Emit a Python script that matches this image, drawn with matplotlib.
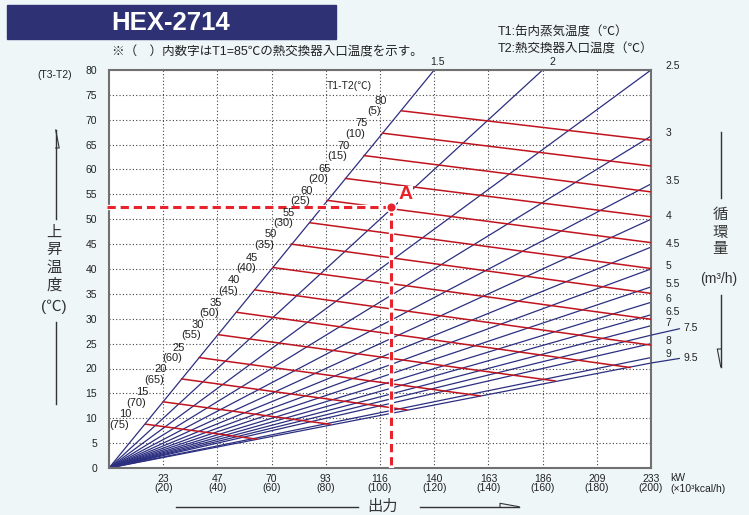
import matplotlib
matplotlib.use('Agg')
import matplotlib.pyplot as plt
from matplotlib.patches import Rectangle

plt.rcParams['font.family'] = ['Liberation Sans', 'Noto Sans CJK JP']

# circulation flow (m3/h): blue lines from the origin to where they leave the chart
flows = ['1.5', '2', '2.5', '3', '3.5', '4', '4.5', '5', '5.5', '6', '6.5', '7', '7.5', '8', '9', '9.5']
flow_end_q = [120, 160, 200, 200, 200, 200, 200, 200, 200, 200, 200, 200, 200, 200, 200, 200]
flow_end_dt = [80, 80, 80, 66.7, 57.1, 50, 44.4, 40, 36.4, 33.3, 30.8, 28.6, 26.7, 25, 22.2, 21.1]

# T1-T2 lines (red), value in brackets = T2 when T1=85
t1_t2 = [80, 75, 70, 65, 60, 55, 50, 45, 40, 35, 30, 25, 20, 15, 10]
t2_inlet = [5, 10, 15, 20, 25, 30, 35, 40, 45, 50, 55, 60, 65, 70, 75]
red_start_q = [107.9, 100.9, 94.1, 87.3, 80.5, 74.1, 67.3, 60.5, 53.8, 47.1, 40.3, 33.3, 26.8, 20.0, 13.6]
red_start_dt = [71.8, 67.3, 62.8, 58.2, 53.8, 49.3, 45.0, 40.3, 35.8, 31.3, 26.8, 22.2, 17.9, 13.3, 8.8]
red_end_q = [200, 200, 200, 200, 200, 200, 200, 200, 200, 192.3, 164.6, 136.9, 109.8, 81.5, 54.5]
red_end_dt = [65.9, 60.7, 55.5, 50.5, 45.3, 40.1, 35.1, 29.9, 24.7, 20.2, 17.5, 14.5, 11.7, 8.8, 5.8]

# x axis: output in 10^3 kcal/h with kW above
kcal_ticks = [20, 40, 60, 80, 100, 120, 140, 160, 180, 200]
kw_labels = [23, 47, 70, 93, 116, 140, 163, 186, 209, 233]
dt_ticks = list(range(0, 81, 5))

# example point A
a_q, a_dt = 104, 52.5

bg = '#eef6f8'
navy = '#2e3274'
blue = '#2c2f80'
red = '#c0141e'
dash_red = '#e8232b'
txt = '#222222'

fig = plt.figure(figsize=(7.49, 5.15), dpi=100, facecolor=bg)

# overlay in pixel coordinates for the decorations around the chart
ov = fig.add_axes([0, 0, 1, 1])
ov.set_xlim(0, 749)
ov.set_ylim(515, 0)
ov.axis('off')

ov.add_patch(Rectangle((6.7, 5), 329, 34, color=navy))
ov.text(171, 23, 'HEX-2714', color='white', fontsize=18.5, fontweight='bold',
        ha='center', va='center')
ov.text(112, 53, '※（　）内数字はT1=85℃の熱交換器入口温度を示す。', fontsize=9,
        color=txt, ha='left', va='center')
ov.text(498, 32.5, 'T1:缶内蒸気温度（℃）', fontsize=9, color=txt, ha='left', va='center')
ov.text(498, 49.5, 'T2:熱交換器入口温度（℃）', fontsize=9, color=txt, ha='left', va='center')
ov.text(55, 75, '(T3-T2)', fontsize=7.5, color=txt, ha='center', va='center')

# left axis title with arrow
for ch, y in zip(['上', '昇', '温', '度', '(℃)'], [233, 250, 267.5, 285, 307]):
    ov.text(54, y, ch, fontsize=11, color='#333333', ha='center', va='center')
ov.plot([55.7, 55.7], [130, 219], color='#333333', lw=1)
ov.plot([55.7, 59.2, 55.7], [130, 148, 148], color='#333333', lw=0.8)
ov.plot([55.7, 55.7], [322, 404], color='#333333', lw=1)

# right axis title with arrow
for ch, y in zip(['循', '環', '量'], [215, 232.5, 249.5]):
    ov.text(720, y, ch, fontsize=11, color='#333333', ha='center', va='center')
ov.text(719, 279, '(m³/h)', fontsize=10, color='#333333', ha='center', va='center')
ov.plot([721, 721], [131.7, 198.3], color='#333333', lw=1)
ov.plot([720.7, 720.7], [295, 366.7], color='#333333', lw=1)
ov.plot([720.7, 717.3, 720.7], [366.7, 349, 349], color='#333333', lw=0.8)

# bottom axis title with arrow
ov.text(383, 507, '出力', fontsize=11, color='#333333', ha='center', va='center')
ov.plot([176, 358], [506.7, 506.7], color='#333333', lw=1)
ov.plot([420, 519], [506.7, 506.7], color='#333333', lw=1)
ov.plot([519, 500, 500], [506.7, 503.3, 506.7], color='#333333', lw=0.8)
ov.text(670, 478.3, 'kW', fontsize=7.5, color=txt, ha='left', va='center')
ov.text(670, 489, '(×10³kcal/h)', fontsize=7.5, color=txt, ha='left', va='center')

# main chart
ax = fig.add_axes([109 / 749, 47 / 515, 542 / 749, 398 / 515])
ax.set_facecolor('white')
ax.set_xlim(0, 200)
ax.set_ylim(0, 80)
ax.set_axisbelow(True)
ax.grid(True, linestyle=(0, (1, 2)), color='#444444', lw=0.8)
for s in ax.spines.values():
    s.set_color('#707070')
    s.set_linewidth(1.5)

ax.set_yticks(dt_ticks)
ax.set_yticklabels([str(v) for v in dt_ticks], fontsize=7.5, color=txt)
ax.set_xticks(kcal_ticks)
ax.set_xticklabels([f'{kw}\n({kc})' for kw, kc in zip(kw_labels, kcal_ticks)],
                   fontsize=7.5, color=txt)
for lbl in ax.get_xticklabels():
    lbl.set_linespacing(0.9)
ax.tick_params(axis='both', length=0)
ax.tick_params(axis='y', pad=8.6)
ax.tick_params(axis='x', pad=4.5)

# blue flow lines
for name, q, dt in zip(flows, flow_end_q, flow_end_dt):
    ax.plot([0, q], [0, dt], color=blue, lw=0.9, zorder=2)
    if name in ('1.5', '2'):
        dx = 2 if name == '1.5' else 7
        ax.annotate(name, (q, dt), xytext=(dx, 6), textcoords='offset points',
                    fontsize=7.5, color=txt, ha='center', va='center', annotation_clip=False)
    elif name in ('7.5', '9.5'):
        dy = 5.3 if name == '7.5' else 3.8
        ax.annotate(name, (q, dt), xytext=(23.5, dy), textcoords='offset points',
                    fontsize=7.5, color=txt, ha='left', va='center', annotation_clip=False,
                    arrowprops=dict(arrowstyle='-', color=blue, lw=0.9, shrinkA=1, shrinkB=0,
                                    relpos=(0, 0.5)))
    else:
        dy = 3 if name == '2.5' else 2.2
        ax.annotate(name, (q, dt), xytext=(10.3, dy), textcoords='offset points',
                    fontsize=7.5, color=txt, ha='left', va='center', annotation_clip=False)

# red T1-T2 lines with their labels
for d, t2, q0, y0, q1, y1 in zip(t1_t2, t2_inlet, red_start_q, red_start_dt, red_end_q, red_end_dt):
    ax.plot([q0, q1], [y0, y1], color=red, lw=1.1, zorder=3)
    ax.annotate(str(d), (q0, y0), xytext=(-15, 7), textcoords='offset points',
                fontsize=8, color=txt, ha='center', va='center', zorder=7)
    ax.annotate(f'({t2})', (q0, y0), xytext=(-19.5, -0.5), textcoords='offset points',
                fontsize=8, color=txt, ha='center', va='center', zorder=7)
ax.text(88.8, 76.8, 'T1-T2(℃)', fontsize=7.5, color=txt, ha='center', va='center')

# reading example A
ax.plot([-0.8, a_q], [a_dt, a_dt], color='white', lw=3.8, zorder=4, clip_on=False,
        solid_capstyle='butt')
ax.plot([a_q, a_q], [a_dt, 0], color='white', lw=3.8, zorder=4, solid_capstyle='butt')
ax.plot([-0.8, a_q], [a_dt, a_dt], color=dash_red, lw=2.2, ls=(0, (2.7, 1.6)), zorder=5,
        clip_on=False)
ax.plot([a_q, a_q], [a_dt, 0], color=dash_red, lw=2.2, ls=(0, (2.7, 1.6)), zorder=5)
ax.plot([a_q], [a_dt], 'o', color=dash_red, ms=7, mec='white', mew=1.2, zorder=6)
ax.text(a_q + 5.3, a_dt + 2.4, 'A', color=dash_red, fontsize=14, fontweight='bold',
        ha='center', va='center', zorder=6,
        bbox=dict(fc='white', ec='none', pad=0.3))

fig.savefig('out.png', dpi=100, facecolor=bg)
